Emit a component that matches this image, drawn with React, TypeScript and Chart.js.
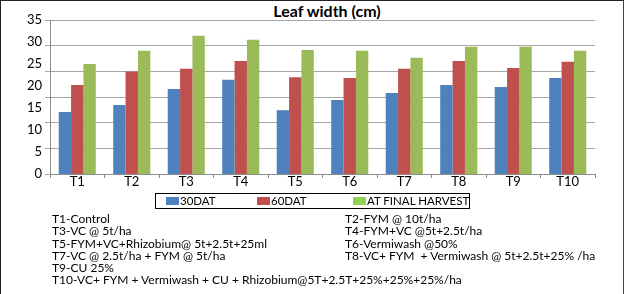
import React, { useEffect, useRef } from "react";
import { Chart, registerables } from "chart.js";

Chart.register(...registerables);

const categories = ["T1", "T2", "T3", "T4", "T5", "T6", "T7", "T8", "T9", "T10"];
const dat30 = [14.1, 15.7, 19.3, 21.4, 14.5, 16.8, 18.4, 20.2, 19.8, 21.8];
const dat60 = [20.2, 23.3, 23.9, 25.7, 22.0, 21.8, 23.9, 25.7, 24.1, 25.5];
const finalHarvest = [25.0, 28.0, 31.4, 30.5, 28.2, 28.0, 26.4, 28.9, 28.9, 28.0];
const seriesNames = ["30DAT", "60DAT", "AT FINAL HARVEST"];
const yTicks = [0, 5, 10, 15, 20, 25, 30, 35];
const gridDivisions = 6;
const notesLeft = [
  "T1-Control",
  "T3-VC @ 5t/ha",
  "T5-FYM+VC+Rhizobium@ 5t+2.5t+25ml",
  "T7-VC @ 2.5t/ha + FYM @ 5t/ha",
  "T9-CU 25%",
  "T10-VC+ FYM + Vermiwash + CU + Rhizobium@5T+2.5T+25%+25%+25%/ha",
];
const notesRight = [
  "T2-FYM @ 10t/ha",
  "T4-FYM+VC @5t+2.5t/ha",
  "T6-Vermiwash @50%",
  "T8-VC+ FYM  + Vermiwash @ 5t+2.5t+25% /ha",
];

const barColors = ["#4F81BD", "#C0504D", "#9BBB59"];
const legendColors = ["#4F81BD", "#C0504D", "#92D050"];
const FONT = "Lato, 'Open Sans', sans-serif";

export default function App() {
  const ref = useRef<HTMLCanvasElement | null>(null);

  useEffect(() => {
    if (!ref.current) return;
    const yMax = yTicks[yTicks.length - 1];
    const chart = new Chart(ref.current, {
      type: "bar",
      data: {
        labels: categories,
        datasets: [dat30, dat60, finalHarvest].map((d, i) => ({
          label: seriesNames[i],
          data: d,
          yAxisID: "y",
          backgroundColor: barColors[i],
          borderWidth: 0,
          categoryPercentage: 0.68,
          barPercentage: 1.0,
        })),
      },
      options: {
        animation: false,
        responsive: false,
        maintainAspectRatio: false,
        layout: { padding: { top: 20, right: 30, left: 0, bottom: 0 } },
        plugins: {
          legend: { display: false },
          title: { display: false },
          tooltip: { enabled: false },
        },
        scales: {
          x: {
            afterFit: (s: any) => {
              s.height = 26;
            },
            grid: {
              offset: true,
              drawOnChartArea: false,
              drawTicks: true,
              tickLength: 4,
              color: "#8c8c8c",
            },
            border: { color: "#8c8c8c" },
            ticks: {
              color: "#000",
              padding: -4,
              font: { family: FONT, size: 13 },
            },
          },
          y: {
            position: "left",
            weight: 1,
            min: 0,
            max: yMax,
            afterFit: (s: any) => {
              s.width = 50;
            },
            afterBuildTicks: (s: any) => {
              s.ticks = yTicks.map((v) => ({ value: v }));
            },
            grid: { display: false, drawTicks: false },
            border: { display: false },
            ticks: {
              color: "#000",
              padding: 8,
              font: { family: FONT, size: 13 },
            },
          },
          y2: {
            position: "left",
            weight: 0,
            min: 0,
            max: yMax,
            afterFit: (s: any) => {
              s.width = 0;
            },
            afterBuildTicks: (s: any) => {
              const t = [];
              for (let k = 0; k <= gridDivisions; k++) t.push({ value: (yMax * k) / gridDivisions });
              s.ticks = t;
            },
            grid: {
              color: "#a6a6a6",
              tickLength: 5,
              lineWidth: 1,
            },
            border: { color: "#8c8c8c" },
            ticks: { display: false },
          },
        },
      },
    });
    return () => chart.destroy();
  }, []);

  return (
    <div
      style={{
        position: "absolute",
        left: 0,
        top: 0,
        width: 625,
        height: 294,
        background: "#fff",
        fontFamily: FONT,
        overflow: "hidden",
      }}
    >
      <div
        style={{
          position: "absolute",
          left: 0,
          top: 0,
          width: 622,
          height: 300,
          borderLeft: "1px solid #222",
          borderTop: "1px solid #222",
          borderRight: "1px solid #444",
        }}
      />
      <div
        style={{
          position: "absolute",
          left: 0,
          top: 1,
          width: 654,
          textAlign: "center",
          fontWeight: "bold",
          fontSize: 16,
          color: "#000",
        }}
      >
        Leaf width (cm)
      </div>
      <canvas
        ref={ref}
        width={625}
        height={200}
        style={{ position: "absolute", left: 0, top: 0, width: 625, height: 200 }}
      />
      <div
        style={{
          position: "absolute",
          left: 155,
          top: 193,
          width: 313,
          height: 14,
          border: "1px solid #000",
          fontSize: 11.5,
          lineHeight: "14px",
          color: "#000",
        }}
      >
        {seriesNames.map((n, i) => (
          <div
            key={n}
            style={{
              position: "absolute",
              left: [10, 101, 197][i],
              top: 0,
              whiteSpace: "nowrap",
            }}
          >
            <span
              style={{
                display: "inline-block",
                width: 13,
                height: 8,
                background: legendColors[i],
                marginRight: 1,
                verticalAlign: 0,
              }}
            />
            {n}
          </div>
        ))}
      </div>
      <div style={{ position: "absolute", left: 52, top: 213, fontSize: 12, lineHeight: "12.3px", color: "#000", whiteSpace: "pre" }}>
        {notesLeft.map((t) => (
          <div key={t}>{t}</div>
        ))}
      </div>
      <div style={{ position: "absolute", left: 345, top: 213, fontSize: 12, lineHeight: "12.3px", color: "#000", whiteSpace: "pre" }}>
        {notesRight.map((t) => (
          <div key={t}>{t}</div>
        ))}
      </div>
    </div>
  );
}
